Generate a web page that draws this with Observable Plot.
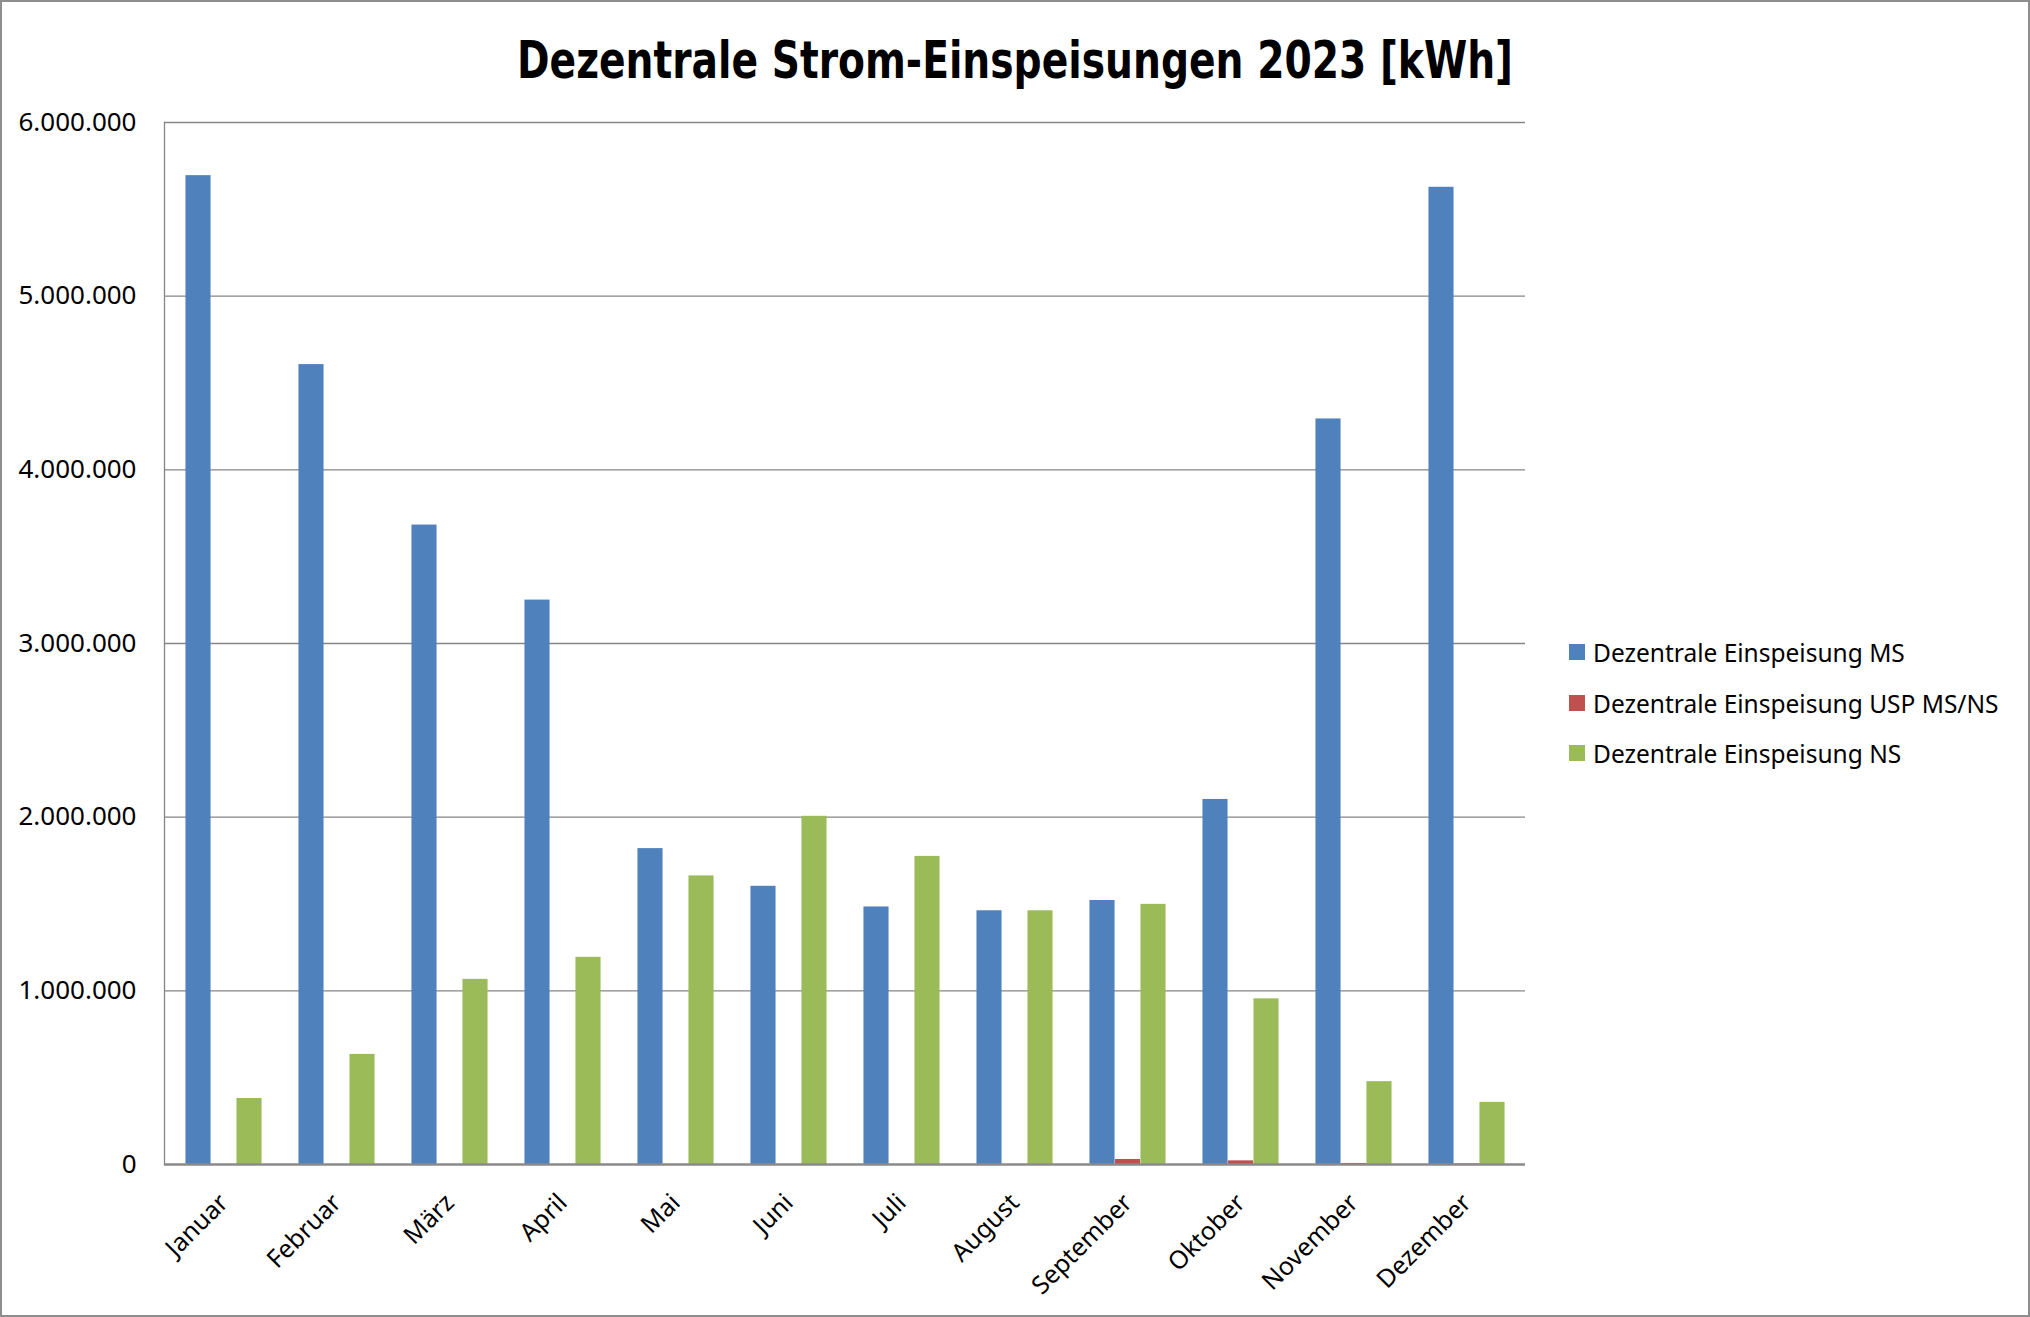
<!DOCTYPE html>
<html><head><meta charset="utf-8">
<script src="https://cdn.jsdelivr.net/npm/d3@7"></script>
<script src="https://cdn.jsdelivr.net/npm/@observablehq/plot@0.6"></script>
<style>
html,body{margin:0;padding:0;background:#fff;}
#wrap{position:relative;width:2030px;height:1317px;overflow:hidden;font-family:"Noto Sans",sans-serif;background:#fff;}
#border{position:absolute;left:0;top:0;width:2030px;height:1317px;box-sizing:border-box;border:2px solid #8e8e8e;pointer-events:none;}
#chart{position:absolute;left:0;top:0;}
#titleSvg{position:absolute;left:0;top:0;}
#legend{position:absolute;left:1569px;top:0;}
.item{position:absolute;left:0;display:flex;align-items:center;white-space:nowrap;font-size:24.5px;color:#000;height:30px;}
.sw{width:16px;height:16px;margin-right:8px;flex:none;}
</style></head>
<body>
<div id="wrap">
  <div id="chart"></div>
  <svg id="titleSvg" width="2030" height="110"></svg>
  <div id="legend"></div>
  <div id="border"></div>
</div>
<script>
const months = ["Januar","Februar","März","April","Mai","Juni","Juli","August","September","Oktober","November","Dezember"];
const seriesNames = ["Dezentrale Einspeisung MS","Dezentrale Einspeisung USP MS/NS","Dezentrale Einspeisung NS"];
const valuesMS  = [5694000,4606000,3682000,3250000,1819000,1602000,1483000,1461000,1520000,2102000,4293000,5627000];
const valuesUSP = [0,0,0,0,0,0,0,0,29000,21000,6000,3000];
const valuesNS  = [380000,634000,1066000,1193000,1662000,2005000,1774000,1461000,1498000,954000,477000,358000];
const yTicks = [0,1000000,2000000,3000000,4000000,5000000,6000000];
const colors = ["#4F81BD","#C0504D","#9BBB59"];
const titleText = "Dezentrale Strom-Einspeisungen 2023 [kWh]";

const seriesValues = [valuesMS, valuesUSP, valuesNS];
const tables = seriesNames.map((s, j) => months.map((m, i) => ({month: m, series: s, value: seriesValues[j][i]})));

const fmt = d3.formatLocale({decimal: ",", thousands: ".", grouping: [3], currency: ["", "€"]}).format(",d");

// style constants (pixels): bar width and group offset
const barW = 25.5;
const W = 2030, H = 1317, mL = 164, mR = 505, mT = 122, mB = 153;
const band = (W - mL - mR) / months.length;
const inset = (band - barW) / 2;

const chart = Plot.plot({
  width: W, height: H,
  marginLeft: mL, marginRight: mR, marginTop: mT, marginBottom: mB,
  style: {fontFamily: "Noto Sans", fontSize: "25px", color: "#000", background: "transparent", overflow: "visible"},
  x: {domain: months, padding: 0, label: null, axis: null},
  y: {domain: [0, 6000000], label: null, axis: null},
  marks: [
    Plot.ruleY(yTicks.slice(1), {stroke: "#868686", strokeWidth: 1.3}),
    ...tables.map((t, j) => Plot.barY(t, {x: "month", y: "value", fill: colors[j], insetLeft: inset, insetRight: inset, dx: (j - 1) * barW})),
    Plot.frame({anchor: "left", stroke: "#868686", strokeWidth: 1.3}),
    Plot.ruleY([0], {stroke: "#8a8a8a", strokeWidth: 2.5}),
    Plot.axisY(yTicks, {tickFormat: fmt, label: null, tickSize: 0, tickPadding: 28, fontSize: 26}),
    Plot.axisX(months, {label: null, tickRotate: -45, tickSize: 0, tickPadding: 34, fontSize: 25})
  ]
});
document.getElementById("chart").appendChild(chart);

// Title
const tsvg = d3.select("#titleSvg");
tsvg.append("text")
  .attr("x", 517).attr("y", 78)
  .attr("textLength", 996).attr("lengthAdjust", "spacingAndGlyphs")
  .attr("font-family", "'DejaVu Sans Condensed','DejaVu Sans',sans-serif")
  .attr("font-stretch", "condensed")
  .attr("font-weight", "bold").attr("font-size", 52).attr("fill", "#000")
  .text(titleText);

// Legend
const rowY = [652, 703, 753];
const legend = d3.select("#legend");
seriesNames.forEach((s, i) => {
  const it = legend.append("div").attr("class", "item").style("top", (rowY[i] - 15) + "px");
  it.append("div").attr("class", "sw").style("background", colors[i]);
  it.append("span").text(s);
});
</script>
</body></html>
